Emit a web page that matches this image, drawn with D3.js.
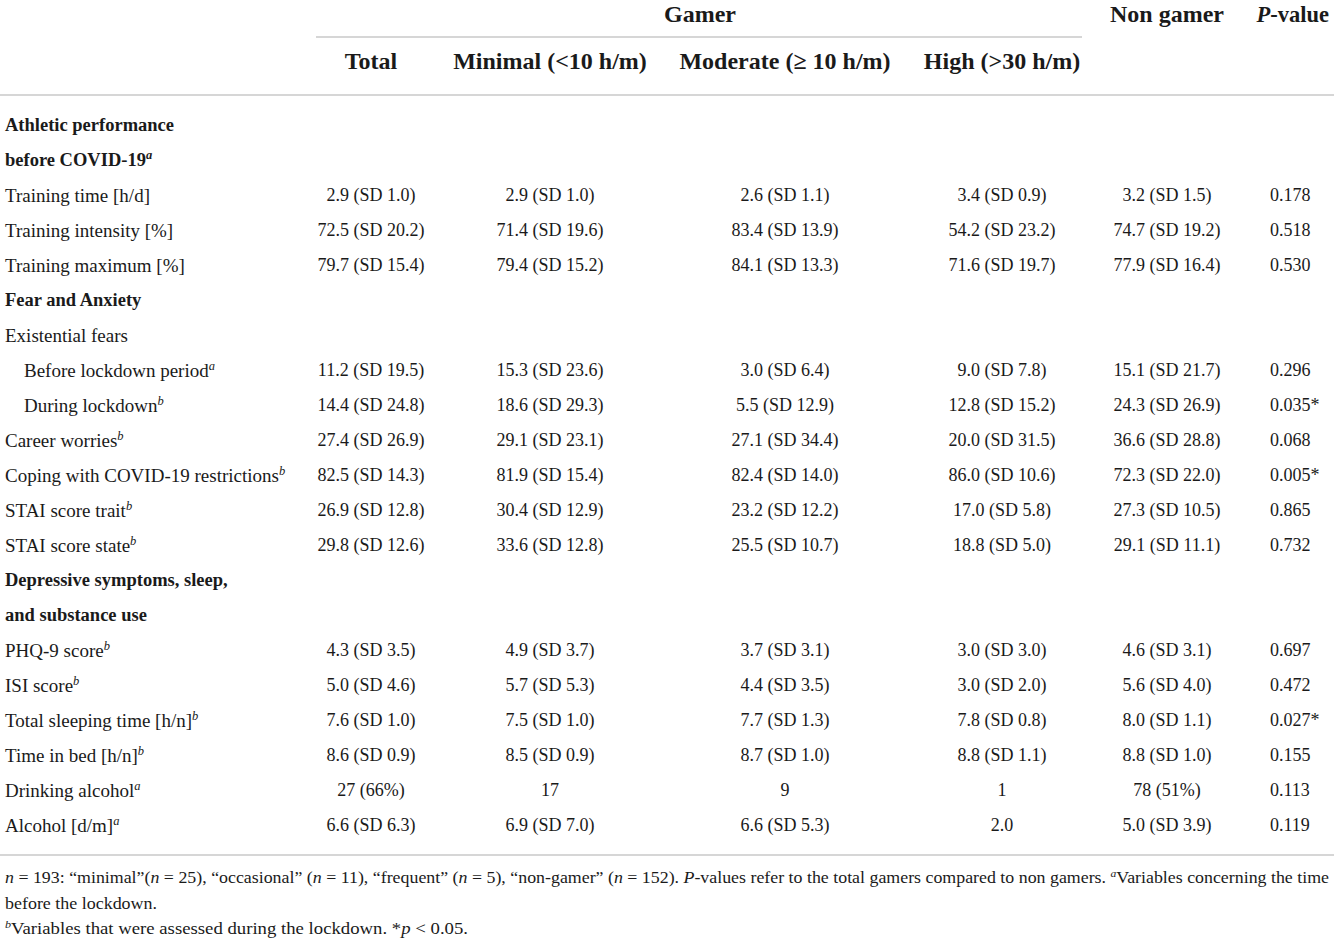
<!DOCTYPE html>
<html><head><meta charset="utf-8">
<script src="https://cdn.jsdelivr.net/npm/d3@7"></script>
<style>
html,body{margin:0;padding:0;background:#fff;}
svg{display:block;font-family:"Liberation Serif","Times New Roman",serif;}
</style></head>
<body>
<svg id="chart" width="1334" height="941"></svg>
<script>
// ---- data ----
const columns = ["Total", "Minimal (<10 h/m)", "Moderate (\u2265 10 h/m)", "High (>30 h/m)", "Non gamer", "P-value"];
const rowLabels = ["Athletic performance", "before COVID-19", "Training time [h/d]", "Training intensity [%]", "Training maximum [%]",
  "Fear and Anxiety", "Existential fears", "Before lockdown period", "During lockdown", "Career worries",
  "Coping with COVID-19 restrictions", "STAI score trait", "STAI score state", "Depressive symptoms, sleep,", "and substance use",
  "PHQ-9 score", "ISI score", "Total sleeping time [h/n]", "Time in bed [h/n]", "Drinking alcohol", "Alcohol [d/m]"];
const rowSup = ["", "a", "", "", "", "", "", "a", "b", "b", "b", "b", "b", "", "", "b", "b", "b", "b", "a", "a"];
const rowKind = ["head", "head", "item", "item", "item", "head", "item", "sub", "sub", "item", "item", "item", "item", "head", "head",
  "item", "item", "item", "item", "item", "item"];
const totalVals = ["", "", "2.9 (SD 1.0)", "72.5 (SD 20.2)", "79.7 (SD 15.4)", "", "", "11.2 (SD 19.5)", "14.4 (SD 24.8)", "27.4 (SD 26.9)",
  "82.5 (SD 14.3)", "26.9 (SD 12.8)", "29.8 (SD 12.6)", "", "", "4.3 (SD 3.5)", "5.0 (SD 4.6)", "7.6 (SD 1.0)", "8.6 (SD 0.9)", "27 (66%)", "6.6 (SD 6.3)"];
const minimalVals = ["", "", "2.9 (SD 1.0)", "71.4 (SD 19.6)", "79.4 (SD 15.2)", "", "", "15.3 (SD 23.6)", "18.6 (SD 29.3)", "29.1 (SD 23.1)",
  "81.9 (SD 15.4)", "30.4 (SD 12.9)", "33.6 (SD 12.8)", "", "", "4.9 (SD 3.7)", "5.7 (SD 5.3)", "7.5 (SD 1.0)", "8.5 (SD 0.9)", "17", "6.9 (SD 7.0)"];
const moderateVals = ["", "", "2.6 (SD 1.1)", "83.4 (SD 13.9)", "84.1 (SD 13.3)", "", "", "3.0 (SD 6.4)", "5.5 (SD 12.9)", "27.1 (SD 34.4)",
  "82.4 (SD 14.0)", "23.2 (SD 12.2)", "25.5 (SD 10.7)", "", "", "3.7 (SD 3.1)", "4.4 (SD 3.5)", "7.7 (SD 1.3)", "8.7 (SD 1.0)", "9", "6.6 (SD 5.3)"];
const highVals = ["", "", "3.4 (SD 0.9)", "54.2 (SD 23.2)", "71.6 (SD 19.7)", "", "", "9.0 (SD 7.8)", "12.8 (SD 15.2)", "20.0 (SD 31.5)",
  "86.0 (SD 10.6)", "17.0 (SD 5.8)", "18.8 (SD 5.0)", "", "", "3.0 (SD 3.0)", "3.0 (SD 2.0)", "7.8 (SD 0.8)", "8.8 (SD 1.1)", "1", "2.0"];
const nonGamerVals = ["", "", "3.2 (SD 1.5)", "74.7 (SD 19.2)", "77.9 (SD 16.4)", "", "", "15.1 (SD 21.7)", "24.3 (SD 26.9)", "36.6 (SD 28.8)",
  "72.3 (SD 22.0)", "27.3 (SD 10.5)", "29.1 (SD 11.1)", "", "", "4.6 (SD 3.1)", "5.6 (SD 4.0)", "8.0 (SD 1.1)", "8.8 (SD 1.0)", "78 (51%)", "5.0 (SD 3.9)"];
const pVals = ["", "", "0.178", "0.518", "0.530", "", "", "0.296", "0.035*", "0.068", "0.005*", "0.865", "0.732", "", "",
  "0.697", "0.472", "0.027*", "0.155", "0.113", "0.119"];

// ---- layout ----
const svg = d3.select("#chart");
const W = 1334;
const rowY = d3.scalePoint().domain(d3.range(rowLabels.length)).range([125, 825]);
const colX = d3.scaleOrdinal().domain(columns).range([371, 550, 785, 1002, 1167, 1270]);
const colData = [totalVals, minimalVals, moderateVals, highVals, nonGamerVals, pVals];
const textColor = "#1a1a1a";
const lineColor = "#c8c8c8";
const fsLabel = 19;
const fsCell = 18;
const fsHead = 24;

// rules
const rules = [
  {x1: 316, x2: 1082, y: 37},
  {x1: 0, x2: W, y: 95},
  {x1: 0, x2: W, y: 855}
];
svg.selectAll("line.rule").data(rules).join("line").attr("class", "rule")
  .attr("x1", d => d.x1).attr("x2", d => d.x2).attr("y1", d => d.y).attr("y2", d => d.y)
  .attr("stroke", lineColor).attr("stroke-width", 1.6);

// header
const hdr = svg.append("g").attr("font-weight", "bold").attr("font-size", fsHead).attr("fill", textColor)
  .attr("text-anchor", "middle");
hdr.append("text").attr("x", 700).attr("y", 14).attr("dy", "0.35em").text("Gamer");
hdr.append("text").attr("x", colX("Non gamer")).attr("y", 14).attr("dy", "0.35em").text("Non gamer");
const pv = hdr.append("text").attr("x", 1329).attr("y", 14).attr("dy", "0.35em").attr("text-anchor", "end")
  .attr("font-size", 22.5);
pv.append("tspan").attr("font-style", "italic").text("P");
pv.append("tspan").text("-value");
columns.slice(0, 4).forEach(c => {
  hdr.append("text").attr("x", colX(c)).attr("y", 61).attr("dy", "0.35em").text(c);
});

// row labels
const lab = svg.append("g").attr("font-size", fsLabel).attr("fill", textColor);
rowLabels.forEach((l, i) => {
  const t = lab.append("text")
    .attr("x", rowKind[i] === "sub" ? 24 : 5)
    .attr("y", rowY(i)).attr("dy", "0.35em")
    .attr("font-weight", rowKind[i] === "head" ? "bold" : "normal")
    .attr("font-size", rowKind[i] === "head" ? 18.5 : fsLabel)
    .text(l);
  if (rowSup[i]) {
    t.append("tspan").attr("font-style", "italic").attr("font-size", 12.5)
      .attr("dy", -7).text(rowSup[i]);
  }
});

// cells
const cells = svg.append("g").attr("font-size", fsCell).attr("fill", textColor);
colData.forEach((arr, c) => {
  cells.selectAll(null).data(arr.map((v, i) => ({v, i})).filter(d => d.v !== "")).join("text")
    .attr("x", colX(columns[c]))
    .attr("y", d => rowY(d.i)).attr("dy", "0.35em")
    .attr("text-anchor", c === 5 ? "start" : "middle")
    .text(d => d.v);
});

// footnotes
const fn = svg.append("g").attr("font-size", 17).attr("fill", textColor);
const f1 = fn.append("text").attr("x", 5).attr("y", 883)
  .attr("textLength", 1324).attr("lengthAdjust", "spacingAndGlyphs");
const seg1 = [["n", 1], [" = 193: \u201cminimal\u201d(", 0], ["n", 1], [" = 25), \u201coccasional\u201d (", 0], ["n", 1],
  [" = 11), \u201cfrequent\u201d (", 0], ["n", 1], [" = 5), \u201cnon-gamer\u201d (", 0], ["n", 1],
  [" = 152). ", 0], ["P", 1], ["-values refer to the total gamers compared to non gamers. ", 0]];
seg1.forEach(s => f1.append("tspan").attr("font-style", s[1] ? "italic" : "normal").text(s[0]));
f1.append("tspan").attr("font-style", "italic").attr("font-size", 11).attr("dy", -6).text("a");
f1.append("tspan").attr("dy", 6).text("Variables concerning the time");
fn.append("text").attr("x", 5).attr("y", 909).attr("textLength", 152)
  .attr("lengthAdjust", "spacingAndGlyphs").text("before the lockdown.");
const f3 = fn.append("text").attr("x", 5).attr("y", 934)
  .attr("textLength", 463).attr("lengthAdjust", "spacingAndGlyphs");
f3.append("tspan").attr("font-style", "italic").attr("font-size", 11).attr("dy", -6).text("b");
f3.append("tspan").attr("dy", 6).text("Variables that were assessed during the lockdown. *");
f3.append("tspan").attr("font-style", "italic").text("p");
f3.append("tspan").text(" < 0.05.");
</script>
</body></html>
